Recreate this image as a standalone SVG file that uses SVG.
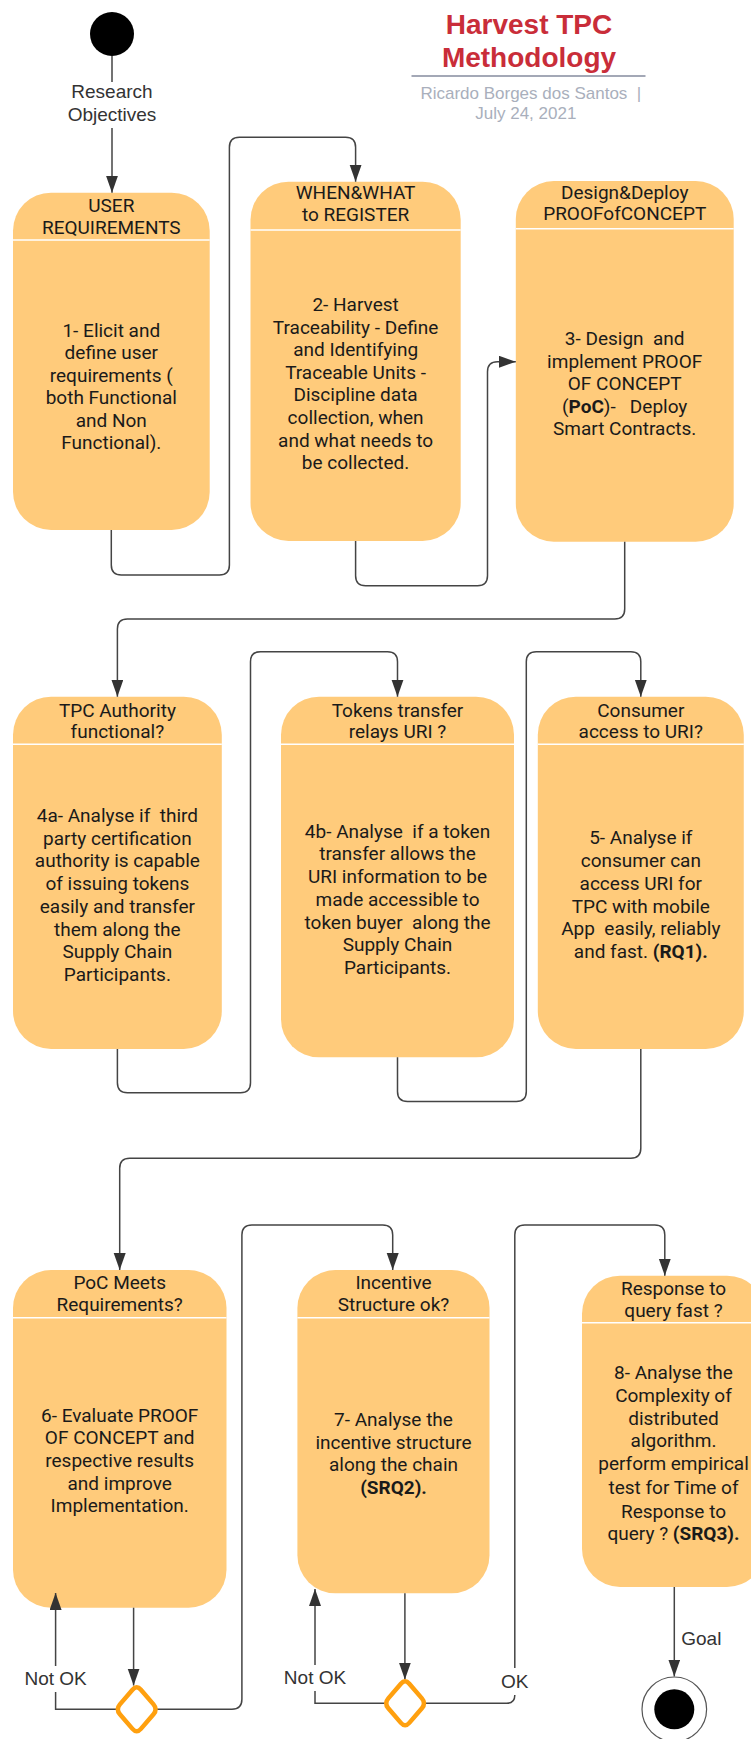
<svg xmlns="http://www.w3.org/2000/svg" width="751" height="1739" viewBox="0 0 751 1739">
<style>
.node{fill:#FFCB7B;}
.div{stroke:#FFFFFF;stroke-width:1.5;}
.nt{font-family:Roboto,"Liberation Sans",sans-serif;font-size:19px;fill:#1a1a1a;text-anchor:middle;}
.b{font-weight:bold;}
.con{fill:none;stroke:#444444;stroke-width:1.5;}
.lbl{font-family:"Liberation Sans",Arial,sans-serif;font-size:19px;fill:#333333;text-anchor:middle;}
.gap{fill:#FFFFFF;}
.dia{fill:#FFFFFF;stroke:#FFA00F;stroke-width:4.5;stroke-linejoin:round;}
</style>
<defs>
<marker id="arr" markerUnits="userSpaceOnUse" markerWidth="18" markerHeight="13" refX="17" refY="6" orient="auto">
<path d="M0,0 L17,6 L0,12 Z" fill="#333333"/>
</marker>
<path id="diamond" d="M-4.2,-19.6 Q0,-24.5 4.2,-19.6 L16.8,-4.9 Q21,0 16.8,4.9 L4.2,19.6 Q0,24.5 -4.2,19.6 L-16.8,4.9 Q-21,0 -16.8,-4.9 Z"/>
</defs>
<rect width="751" height="1739" fill="#FFFFFF"/>

<g id="title">
<text x="529" y="34" font-family="'Liberation Sans',Arial,sans-serif" font-size="28" font-weight="bold" fill="#C92D39" text-anchor="middle">Harvest TPC</text>
<text x="529" y="67" font-family="'Liberation Sans',Arial,sans-serif" font-size="28" font-weight="bold" fill="#C92D39" text-anchor="middle">Methodology</text>
<line x1="411.5" y1="76" x2="645.5" y2="76" stroke="#A3A8B6" stroke-width="2.2"/>
<text x="530.8" y="99" font-family="'Liberation Sans',Arial,sans-serif" font-size="17" fill="#A9AFBC" text-anchor="middle">Ricardo Borges dos Santos&#160; |</text>
<text x="525.8" y="119" font-family="'Liberation Sans',Arial,sans-serif" font-size="17" fill="#A9AFBC" text-anchor="middle">July 24, 2021</text>
</g>

<g id="start">
<circle cx="112" cy="34" r="22" fill="#000000"/>
<text class="lbl" x="112" y="97.7">Research</text>
<text class="lbl" x="112" y="121">Objectives</text>
</g>

<g id="node1">
<rect class="node" x="13" y="192.7" width="196.7" height="337.3" rx="38" ry="38"/>
<line class="div" x1="13" y1="240" x2="209.7" y2="240"/>
<text class="nt"><tspan x="111.3" y="212">USER</tspan><tspan x="111.3" y="234">REQUIREMENTS</tspan></text>
<text class="nt"><tspan x="111.3" y="337">1- Elicit and</tspan><tspan x="111.3" y="359.4">define user</tspan><tspan x="111.3" y="381.8">requirements (</tspan><tspan x="111.3" y="404.2">both Functional</tspan><tspan x="111.3" y="426.6">and Non</tspan><tspan x="111.3" y="449">Functional).</tspan></text>
</g>

<g id="node2">
<rect class="node" x="250.5" y="181.7" width="210.2" height="359.3" rx="38" ry="38"/>
<line class="div" x1="250.5" y1="230" x2="460.7" y2="230"/>
<text class="nt"><tspan x="355.6" y="199">WHEN&amp;WHAT</tspan><tspan x="355.6" y="221">to REGISTER</tspan></text>
<text class="nt"><tspan x="355.6" y="311">2- Harvest</tspan><tspan x="355.6" y="333.6">Traceability - Define</tspan><tspan x="355.6" y="356.2">and Identifying</tspan><tspan x="355.6" y="378.8">Traceable Units -</tspan><tspan x="355.6" y="401.4">Discipline data</tspan><tspan x="355.6" y="424">collection, when</tspan><tspan x="355.6" y="446.6">and what needs to</tspan><tspan x="355.6" y="469.2">be collected.</tspan></text>
</g>

<g id="node3">
<rect class="node" x="515.8" y="181" width="217.9" height="360.7" rx="38" ry="38"/>
<line class="div" x1="515.8" y1="228.7" x2="733.7" y2="228.7"/>
<text class="nt"><tspan x="624.7" y="198.5">Design&amp;Deploy</tspan><tspan x="624.7" y="220">PROOFofCONCEPT</tspan></text>
<text class="nt"><tspan x="624.7" y="345">3- Design&#160; and</tspan><tspan x="624.7" y="367.5">implement PROOF</tspan><tspan x="624.7" y="390">OF CONCEPT</tspan><tspan x="624.7" y="412.5">(<tspan class="b">PoC</tspan>)-&#160;&#160; Deploy</tspan><tspan x="624.7" y="435">Smart Contracts.</tspan></text>
</g>

<g id="node4a">
<rect class="node" x="13" y="696.7" width="208.8" height="352.3" rx="38" ry="38"/>
<line class="div" x1="13" y1="744.3" x2="221.8" y2="744.3"/>
<text class="nt"><tspan x="117.4" y="716.7">TPC Authority</tspan><tspan x="117.4" y="738.4">functional?</tspan></text>
<text class="nt"><tspan x="117.4" y="822">4a- Analyse if&#160; third</tspan><tspan x="117.4" y="844.7">party certification</tspan><tspan x="117.4" y="867.4">authority is capable</tspan><tspan x="117.4" y="890.1">of issuing tokens</tspan><tspan x="117.4" y="912.8">easily and transfer</tspan><tspan x="117.4" y="935.5">them along the</tspan><tspan x="117.4" y="958.2">Supply Chain</tspan><tspan x="117.4" y="980.9">Participants.</tspan></text>
</g>

<g id="node4b">
<rect class="node" x="281" y="696.7" width="233" height="360.6" rx="38" ry="38"/>
<line class="div" x1="281" y1="744.3" x2="514" y2="744.3"/>
<text class="nt"><tspan x="397.5" y="716.7">Tokens transfer</tspan><tspan x="397.5" y="738.4">relays URI ?</tspan></text>
<text class="nt"><tspan x="397.5" y="837.7">4b- Analyse&#160; if a token</tspan><tspan x="397.5" y="860.4">transfer allows the</tspan><tspan x="397.5" y="883.1">URI information to be</tspan><tspan x="397.5" y="905.8">made accessible to</tspan><tspan x="397.5" y="928.5">token buyer&#160; along the</tspan><tspan x="397.5" y="951.2">Supply Chain</tspan><tspan x="397.5" y="973.9">Participants.</tspan></text>
</g>

<g id="node5">
<rect class="node" x="537.8" y="696.7" width="206" height="352.3" rx="38" ry="38"/>
<line class="div" x1="537.8" y1="744.3" x2="743.8" y2="744.3"/>
<text class="nt"><tspan x="640.8" y="716.7">Consumer</tspan><tspan x="640.8" y="738.4">access to URI?</tspan></text>
<text class="nt"><tspan x="640.8" y="844.4">5- Analyse if</tspan><tspan x="640.8" y="867.1">consumer can</tspan><tspan x="640.8" y="889.8">access URI for</tspan><tspan x="640.8" y="912.5">TPC with mobile</tspan><tspan x="640.8" y="935.2">App&#160; easily, reliably</tspan><tspan x="640.8" y="957.9">and fast. <tspan class="b">(RQ1).</tspan></tspan></text>
</g>

<g id="node6">
<rect class="node" x="13" y="1270" width="213.5" height="337.7" rx="38" ry="38"/>
<line class="div" x1="13" y1="1317.7" x2="226.5" y2="1317.7"/>
<text class="nt"><tspan x="119.7" y="1289.4">PoC Meets</tspan><tspan x="119.7" y="1310.7">Requirements?</tspan></text>
<text class="nt"><tspan x="119.7" y="1421.7">6- Evaluate PROOF</tspan><tspan x="119.7" y="1444.3">OF CONCEPT and</tspan><tspan x="119.7" y="1466.9">respective results</tspan><tspan x="119.7" y="1489.5">and improve</tspan><tspan x="119.7" y="1512.1">Implementation.</tspan></text>
</g>

<g id="node7">
<rect class="node" x="297.4" y="1270" width="192.1" height="323.3" rx="38" ry="38"/>
<line class="div" x1="297.4" y1="1317.7" x2="489.5" y2="1317.7"/>
<text class="nt"><tspan x="393.5" y="1289.4">Incentive</tspan><tspan x="393.5" y="1310.7">Structure ok?</tspan></text>
<text class="nt"><tspan x="393.5" y="1426">7- Analyse the</tspan><tspan x="393.5" y="1448.6">incentive structure</tspan><tspan x="393.5" y="1471.2">along the chain</tspan><tspan x="393.5" y="1493.8" class="b">(SRQ2).</tspan></text>
</g>

<g id="node8">
<rect class="node" x="582" y="1275.7" width="183" height="311.3" rx="38" ry="38"/>
<line class="div" x1="582" y1="1322.7" x2="765" y2="1322.7"/>
<text class="nt"><tspan x="673.5" y="1295">Response to</tspan><tspan x="673.5" y="1316.7">query fast ?</tspan></text>
<text class="nt"><tspan x="673.5" y="1379.4">8- Analyse the</tspan><tspan x="673.5" y="1402.4">Complexity of</tspan><tspan x="673.5" y="1425">distributed</tspan><tspan x="673.5" y="1447.4">algorithm.</tspan><tspan x="673.5" y="1470">perform empirical</tspan><tspan x="673.5" y="1494.4">test for Time of</tspan><tspan x="673.5" y="1518.4">Response to</tspan><tspan x="673.5" y="1540">query ? <tspan class="b">(SRQ3).</tspan></tspan></text>
</g>

<g id="connectors">
<path class="con" d="M112 56 V82"/>
<path class="con" d="M112 128 V192.7" marker-end="url(#arr)"/>
<path class="con" d="M111.3 530 V565 Q111.3 575 121.3 575 H219.4 Q229.4 575 229.4 565 V147.3 Q229.4 137.3 239.4 137.3 H345.6 Q355.6 137.3 355.6 147.3 V181.7" marker-end="url(#arr)"/>
<path class="con" d="M355.6 541 V575.7 Q355.6 585.7 365.6 585.7 H477.5 Q487.5 585.7 487.5 575.7 V371.7 Q487.5 361.7 497.5 361.7 H515.8" marker-end="url(#arr)"/>
<path class="con" d="M624.7 541.7 V609 Q624.7 619 614.7 619 H127.4 Q117.4 619 117.4 629 V696.7" marker-end="url(#arr)"/>
<path class="con" d="M117.4 1049 V1082.7 Q117.4 1092.7 127.4 1092.7 H240.5 Q250.5 1092.7 250.5 1082.7 V661.7 Q250.5 651.7 260.5 651.7 H387.5 Q397.5 651.7 397.5 661.7 V696.7" marker-end="url(#arr)"/>
<path class="con" d="M397.5 1057.3 V1091.5 Q397.5 1101.5 407.5 1101.5 H516.3 Q526.3 1101.5 526.3 1091.5 V661.7 Q526.3 651.7 536.3 651.7 H630.8 Q640.8 651.7 640.8 661.7 V696.7" marker-end="url(#arr)"/>
<path class="con" d="M640.8 1049 V1148.3 Q640.8 1158.3 630.8 1158.3 H129.7 Q119.7 1158.3 119.7 1168.3 V1270" marker-end="url(#arr)"/>
<path class="con" d="M133.6 1607.7 V1685.5" marker-end="url(#arr)"/>
<path class="con" d="M116.5 1709.3 H55.6 V1593" marker-end="url(#arr)"/>
<path class="con" d="M156.7 1709.3 H231.9 Q241.9 1709.3 241.9 1699.3 V1235 Q241.9 1225 251.9 1225 H382.7 Q392.7 1225 392.7 1235 V1270" marker-end="url(#arr)"/>
<path class="con" d="M404.9 1593.3 V1679.5" marker-end="url(#arr)"/>
<path class="con" d="M385.5 1703.3 H315 V1589" marker-end="url(#arr)"/>
<path class="con" d="M424.8 1703.3 H506.8 Q514.8 1703.3 514.8 1695.3 V1235 Q514.8 1225 524.8 1225 H654.8 Q664.8 1225 664.8 1235 V1275.7" marker-end="url(#arr)"/>
<path class="con" d="M674.3 1587 V1676.5" marker-end="url(#arr)"/>
<rect class="gap" x="23" y="1666" width="65" height="26"/>
<text class="lbl" x="55.6" y="1685">Not OK</text>
<rect class="gap" x="282" y="1665" width="66" height="26"/>
<text class="lbl" x="315" y="1684.4">Not OK</text>
<rect class="gap" x="499" y="1668" width="32" height="27"/>
<text class="lbl" x="514.8" y="1688.4">OK</text>
<text class="lbl" x="701.3" y="1645">Goal</text>
</g>

<g id="decision1">
<use href="#diamond" class="dia" transform="translate(136.7,1709.3)"/>
</g>
<g id="decision2">
<use href="#diamond" class="dia" transform="translate(405.1,1703.3)"/>
</g>

<g id="end">
<circle cx="674.3" cy="1709.3" r="32.3" fill="#FFFFFF" stroke="#555555" stroke-width="1.2"/>
<circle cx="674.3" cy="1709.3" r="20" fill="#000000"/>
</g>
</svg>
